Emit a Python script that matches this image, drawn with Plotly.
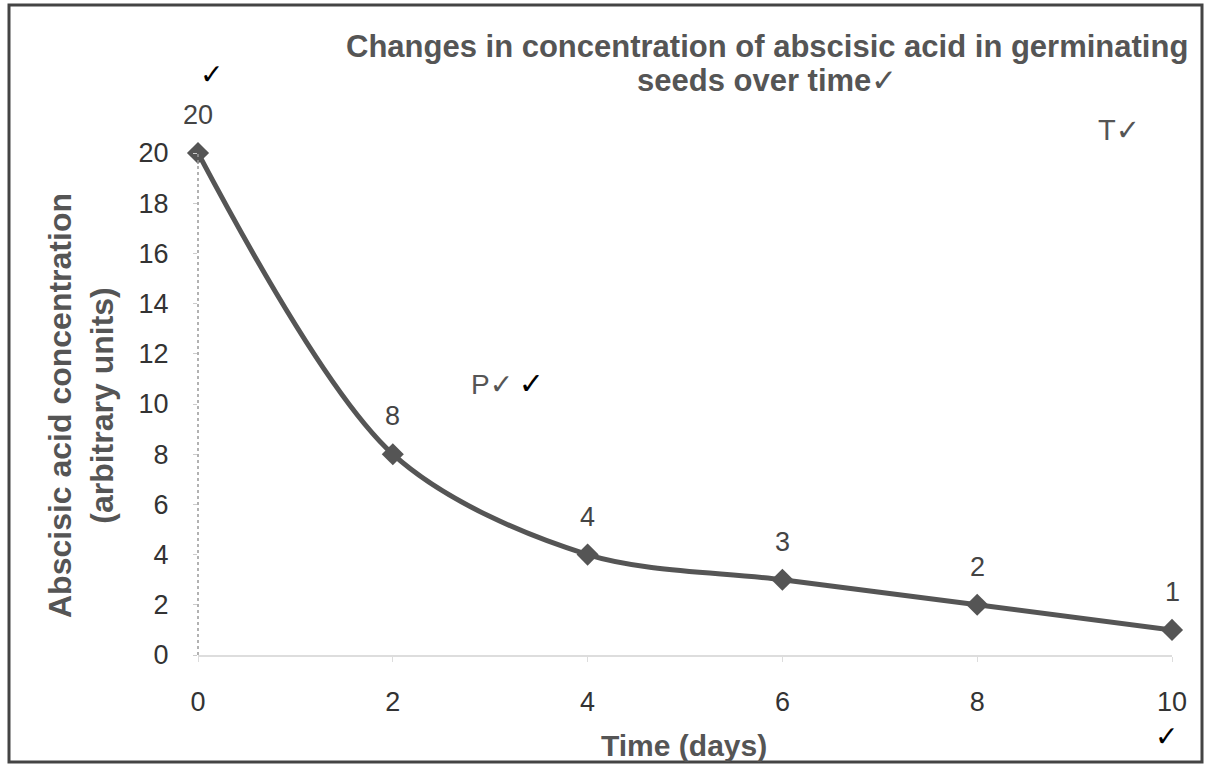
import plotly.graph_objects as go

days = [0, 2, 4, 6, 8, 10]
aba = [20, 8, 4, 3, 2, 1]
x_ticks = [0, 2, 4, 6, 8, 10]
y_ticks = [0, 2, 4, 6, 8, 10, 12, 14, 16, 18, 20]

W, H = 1209, 765
L, R, T, B = 198, 37, 153, 110
pw, ph = W - L - R, H - T - B

def px(xpix):
    return (xpix - L) / pw

def py(ypix):
    return (H - B - ypix) / ph

FONT = "Liberation Sans, Arial, sans-serif"
CHK = "DejaVu Sans, Liberation Sans, sans-serif"
GRAY = "#555555"
DARK = "#333333"

fig = go.Figure()
fig.add_trace(go.Scatter(
    x=days, y=aba, mode="lines+markers",
    line=dict(color=GRAY, width=5, shape="spline", smoothing=0.9),
    marker=dict(symbol="diamond", size=17, color=GRAY),
    cliponaxis=False, showlegend=False, hoverinfo="x+y",
))

# data labels above points
for d, v in zip(days, aba):
    fig.add_annotation(x=d, y=v, text=str(v), showarrow=False, yshift=38,
                       xanchor="center", yanchor="middle",
                       font=dict(family=FONT, size=27, color="#444444"))

fig.update_layout(
    width=W, height=H,
    margin=dict(l=L, r=R, t=T, b=B),
    paper_bgcolor="white", plot_bgcolor="white",
    font=dict(family=FONT, color=DARK),
    xaxis=dict(range=[0, 10], tickvals=x_ticks, showgrid=False, zeroline=False,
               showline=True, linecolor="#dddddd", linewidth=2,
               ticks="outside", ticklen=5, tickcolor="#dddddd",
               tickfont=dict(size=27, color=DARK), ticklabelstandoff=17),
    yaxis=dict(range=[0, 20], tickvals=y_ticks, showgrid=False, zeroline=False,
               showline=False,
               ticks="outside", ticklen=4, tickcolor="#cccccc",
               tickfont=dict(size=27, color=DARK), ticklabelstandoff=19),
)

# dotted y-axis line
fig.add_shape(type="line", xref="paper", yref="paper", x0=0, x1=0, y0=0, y1=1,
              line=dict(color="#999999", width=1.5, dash="dot"))

def note(xp, yp, text, size, color, family=FONT, **kw):
    fig.add_annotation(xref="paper", yref="paper", x=px(xp), y=py(yp), text=text,
                       showarrow=False, xanchor=kw.pop("xanchor", "center"),
                       yanchor="middle", font=dict(family=family, size=size, color=color), **kw)

# Title (two lines)
note(767, 47, "<b>Changes in concentration of abscisic acid in germinating</b>", 31, GRAY)
note(767, 81, "<b>seeds over time</b>✓", 31, GRAY)

# Axis titles
note(684, 745, "<b>Time (days)</b>", 30, GRAY)
note(81, 406, "<b>Abscisic acid concentration<br>(arbitrary units)</b>", 32, GRAY,
     textangle=-90, align="center")

# Marking annotations
note(211, 75, "<b>✓</b>", 28, "black", family=CHK)
note(1166, 736, "<b>✓</b>", 28, "black", family=CHK)
note(469, 383,
     "<span style='font-family:Liberation Sans'>P</span>✓\u2009<b><span style='color:black;font-size:30px'>✓</span></b>",
     28, GRAY, family=CHK, xanchor="left")
note(1096, 130, "<span style='font-family:Liberation Sans'>T</span>✓", 29, GRAY,
     family=CHK, xanchor="left")

# Outer border
fig.add_shape(type="rect", xref="paper", yref="paper",
              x0=px(9), x1=px(1202), y0=py(762), y1=py(5),
              line=dict(color="#444444", width=3), fillcolor="rgba(0,0,0,0)")

fig.write_html("out.html", config={"displayModeBar": False},
               post_script="document.body.style.margin='0';")
